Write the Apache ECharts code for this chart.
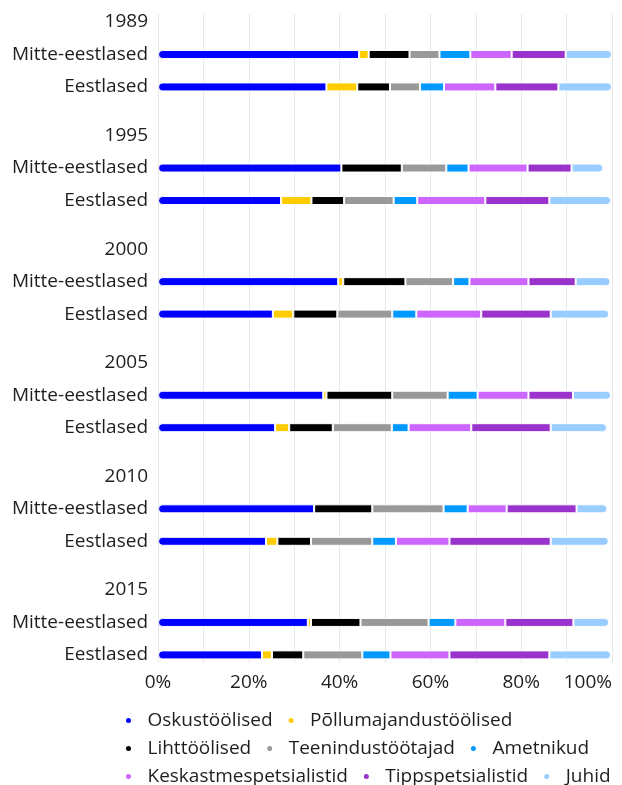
<!DOCTYPE html>
<html>
<head>
<meta charset="utf-8">
<script src="https://cdn.jsdelivr.net/npm/echarts@6/dist/echarts.min.js"></script>
<style>
  html, body { margin: 0; padding: 0; background: #fff; }
  #chart { width: 622px; height: 785px; }
</style>
</head>
<body>
<div id="chart"></div>
<script>
// Occupational structure by nationality, share of employed (%)
const years = ['1989', '1995', '2000', '2005', '2010', '2015'];
const groups = ['Mitte-eestlased', 'Eestlased'];
const occupations = [
  'Oskustöölised', 'Põllumajandustöölised', 'Lihttöölised', 'Teenindustöötajad',
  'Ametnikud', 'Keskastmespetsialistid', 'Tippspetsialistid', 'Juhid'
];
const colors = ['#0000FF', '#FFCC00', '#000000', '#999999', '#0099FF', '#CC66FF', '#9933CC', '#99CCFF'];
const xTicks = ['0%', '20%', '40%', '60%', '80%', '100%'];

// Row order: Mitte-eestlased 1989, Eestlased 1989, Mitte-eestlased 1995, Eestlased 1995, ...
const oskustoolised        = [44.3, 37.1, 40.4, 27.1, 39.7, 25.3, 36.4, 25.8, 34.4, 23.8, 33.0, 22.9];
const pollumajandustoolised = [2.1, 6.8, 0, 6.7, 1.1, 4.5, 0.7, 3.1, 0, 2.5, 0.7, 2.2];
const lihttoolised         = [9.0, 7.2, 13.3, 7.2, 13.7, 9.7, 14.5, 9.6, 12.8, 7.4, 10.9, 6.9];
const teenindustootajad    = [6.6, 6.6, 9.8, 10.9, 10.5, 12.1, 12.2, 13.0, 15.7, 13.5, 15.0, 13.0];
const ametnikud            = [6.8, 5.3, 4.9, 5.2, 3.6, 5.3, 6.6, 3.7, 5.3, 5.2, 5.9, 6.2];
const keskastmespetsialistid = [9.1, 11.3, 13.0, 15.0, 13.0, 14.3, 11.2, 13.8, 8.6, 11.8, 11.0, 13.0];
const tippspetsialistid    = [11.9, 13.9, 9.7, 14.1, 10.4, 15.3, 9.8, 17.5, 15.4, 22.3, 15.0, 22.0];
const juhid                = [10.2, 11.8, 7.0, 13.6, 7.7, 12.9, 8.4, 12.4, 6.8, 12.8, 7.9, 13.6];

const seriesValues = [
  oskustoolised, pollumajandustoolised, lihttoolised, teenindustootajad,
  ametnikud, keskastmespetsialistid, tippspetsialistid, juhid
];

// Category rows: year header, spacer, group 1, spacer, group 2, spacer, spacer
const catKeys = [];
const catLabels = {};
const rowIndexOfCat = [];
years.forEach((y, yi) => {
  const layout = [y, null, groups[0], null, groups[1], null, null];
  layout.forEach((lab, li) => {
    if (yi === years.length - 1 && li > 4) return;
    const key = y + '_' + li;
    catKeys.push(key);
    catLabels[key] = lab || '';
    if (li === 2) rowIndexOfCat.push(yi * 2);
    else if (li === 4) rowIndexOfCat.push(yi * 2 + 1);
    else rowIndexOfCat.push(-1);
  });
});

const FONT = '"Open Sans", sans-serif';
const TEXT = '#1e1e1e';

const series = occupations.map((name, si) => {
  const vals = seriesValues[si];
  let radius = 0;
  if (si === 0) radius = [4, 0, 0, 4];
  if (si === occupations.length - 1) radius = [0, 4, 4, 0];
  return {
    name: name,
    type: 'bar',
    stack: 'total',
    barWidth: 9,
    itemStyle: { color: colors[si], borderColor: '#ffffff', borderWidth: 1, borderRadius: radius },
    emphasis: { disabled: true },
    data: rowIndexOfCat.map(r => (r < 0 ? null : vals[r]))
  };
});

function legendRow(names, top) {
  return {
    data: names,
    top: top,
    left: 119,
    orient: 'horizontal',
    icon: 'circle',
    itemWidth: 28,
    itemHeight: 7,
    itemGap: 14,
    textStyle: { fontFamily: FONT, fontSize: 19, color: TEXT },
    selectedMode: false
  };
}

const chart = echarts.init(document.getElementById('chart'), null, { renderer: 'canvas' });
chart.setOption({
  animation: false,
  color: colors,
  grid: { left: 158, right: 10, top: 13.9, bottom: 122, containLabel: false },
  legend: [
    legendRow(occupations.slice(0, 2), 706),
    legendRow(occupations.slice(2, 5), 734),
    legendRow(occupations.slice(5, 8), 762)
  ],
  xAxis: {
    type: 'value',
    min: 0,
    max: 100,
    interval: 10,
    axisLine: { show: false },
    axisTick: { show: false },
    splitLine: { show: true, lineStyle: { color: '#e8e8e8', width: 1 } },
    axisLabel: {
      interval: 0,
      margin: 10,
      fontFamily: FONT,
      fontSize: 19,
      color: TEXT,
      alignMaxLabel: 'right',
      formatter: v => (v % 20 === 0 ? xTicks[v / 20] : '')
    }
  },
  yAxis: {
    type: 'category',
    inverse: true,
    data: catKeys,
    axisLine: { show: false },
    axisTick: { show: false },
    splitLine: { show: false },
    axisLabel: {
      interval: 0,
      margin: 10,
      fontFamily: FONT,
      fontSize: 19,
      color: TEXT,
      formatter: k => catLabels[k]
    }
  },
  series: series
});
</script>
</body>
</html>
